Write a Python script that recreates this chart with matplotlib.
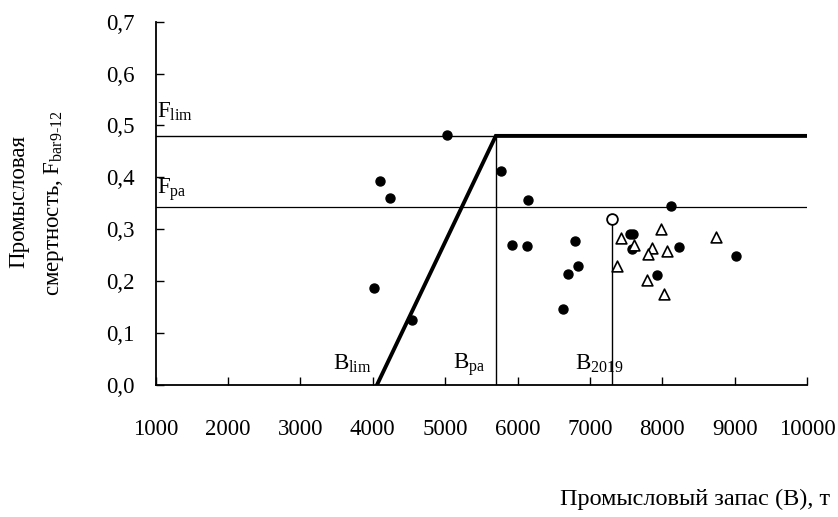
import matplotlib
matplotlib.use("Agg")
import matplotlib.pyplot as plt

plt.rcParams['font.family'] = ['Liberation Serif', 'DejaVu Serif']
plt.rcParams['mathtext.fontset'] = 'custom'
plt.rcParams['mathtext.rm'] = 'Liberation Serif'

# Reference points
B_lim = 4055
B_pa = 5700
B_2019 = 7310
F_lim = 0.48
F_pa = 0.343
F_2019 = 0.320

# Historical data (filled circles)
hist_B = [4024, 4102, 4236, 4546, 5032, 5771, 5924, 6128, 6146, 6631,
          6700, 6788, 6835, 7560, 7600, 7588, 7921, 8119, 8235, 9012]
hist_F = [0.187, 0.394, 0.360, 0.126, 0.481, 0.413, 0.271, 0.268, 0.357, 0.147,
          0.215, 0.277, 0.230, 0.292, 0.292, 0.262, 0.212, 0.345, 0.267, 0.249]

# Projection data (open triangles)
proj_B = [7426, 7380, 7611, 7852, 7801, 7981, 8069, 7782, 8022, 8739]
proj_F = [0.283, 0.229, 0.270, 0.264, 0.253, 0.301, 0.258, 0.203, 0.175, 0.286]

x_ticks = [1000, 2000, 3000, 4000, 5000, 6000, 7000, 8000, 9000, 10000]
y_ticks = [0.0, 0.1, 0.2, 0.3, 0.4, 0.5, 0.6, 0.7]
y_ticklabels = ['0,0', '0,1', '0,2', '0,3', '0,4', '0,5', '0,6', '0,7']

fig = plt.figure(figsize=(8.38, 5.17), dpi=100)
ax = fig.add_axes([0.1856, 0.2544, 0.7775, 0.704])

x_min, x_max = 1000, 10000
# Horizontal reference lines (thin)
ax.plot([x_min, x_max], [F_lim, F_lim], color='black', lw=1.0)
ax.plot([x_min, x_max], [F_pa, F_pa], color='black', lw=0.9)
# Control rule (thick)
ax.plot([B_lim, B_pa, x_max], [0, F_lim, F_lim], color='black', lw=2.8,
        solid_joinstyle='miter')
# Vertical lines
ax.plot([B_pa, B_pa], [0, F_lim], color='black', lw=1.0)
ax.plot([B_2019, B_2019], [0, F_2019], color='black', lw=1.0)

ax.scatter(hist_B, hist_F, s=42, color='black', zorder=5)
ax.scatter(proj_B, proj_F, s=60, marker='^', facecolor='white',
           edgecolor='black', linewidths=1.2, zorder=5)
ax.scatter([B_2019], [F_2019], s=60, marker='o', facecolor='white',
           edgecolor='black', linewidths=1.3, zorder=6)

ax.set_xlim(x_min, x_max)
ax.set_ylim(0, 0.7)
ax.set_xticks(x_ticks)
ax.set_xticklabels([str(v) for v in x_ticks])
ax.set_yticks(y_ticks)
ax.set_yticklabels(y_ticklabels)
fs = 16.5
ax.tick_params(axis='x', direction='in', length=6, width=1, pad=24, labelsize=fs)
ax.tick_params(axis='y', direction='in', length=6, width=1, pad=15, labelsize=fs)
for s in ['top', 'right']:
    ax.spines[s].set_visible(False)
for s in ['left', 'bottom']:
    ax.spines[s].set_linewidth(1.3)

ax.text(1021, 0.517, r'F$_{\mathregular{lim}}$', fontsize=fs, ha='left', va='baseline')
ax.text(1021, 0.369, r'F$_{\mathregular{pa}}$', fontsize=fs, ha='left', va='baseline')
ax.text(3447, 0.032, r'B$_{\mathregular{lim}}$', fontsize=fs, ha='left', va='baseline')
ax.text(5109, 0.032, r'B$_{\mathregular{pa}}$', fontsize=fs, ha='left', va='baseline')
ax.text(6794, 0.032, r'B$_{\mathregular{2019}}$', fontsize=fs, ha='left', va='baseline')

fig.text(0.0227, 0.611, 'Промысловая', rotation=90, fontsize=fs, ha='center', va='center')
fig.text(0.064, 0.607, r'смертность, F$_{\mathregular{bar9\text{-}12}}$', rotation=90,
         fontsize=fs, ha='center', va='center')
fig.text(0.990, 0.0232, 'Промысловый запас (B), т', fontsize=17.5, ha='right', va='baseline')

fig.savefig('out.png', dpi=100)
